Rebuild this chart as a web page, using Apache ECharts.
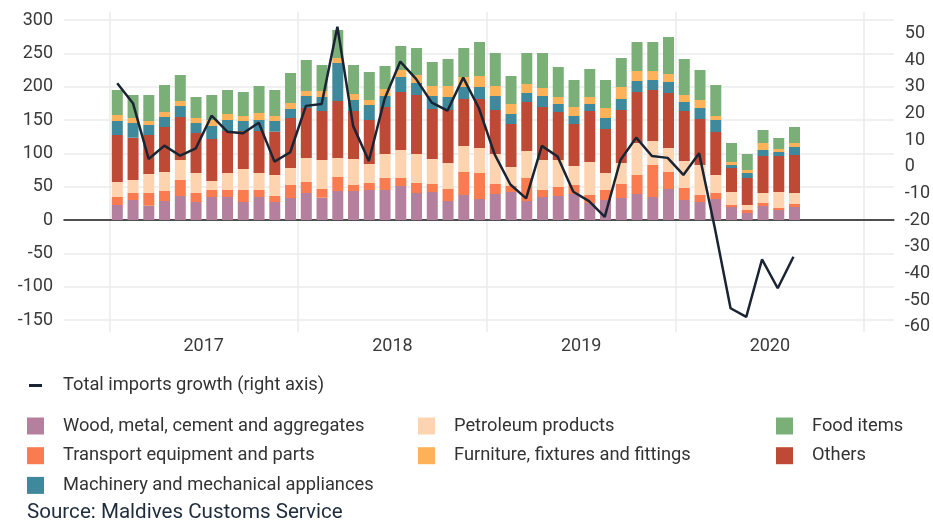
<!DOCTYPE html>
<html>
<head>
<meta charset="utf-8">
<script src="https://cdn.jsdelivr.net/npm/echarts@6/dist/echarts.min.js"></script>
<style>
  html, body { margin: 0; padding: 0; background: #fff; }
  #chart { width: 933px; height: 520px; }
</style>
</head>
<body>
<div id="chart"></div>
<script>
// monthly imports by category (MVR millions), Jan 2017 - Aug 2020
const months = [
  "2017-01", "2017-02", "2017-03", "2017-04", "2017-05", "2017-06", "2017-07", "2017-08", "2017-09", "2017-10", "2017-11", "2017-12",
  "2018-01", "2018-02", "2018-03", "2018-04", "2018-05", "2018-06", "2018-07", "2018-08", "2018-09", "2018-10", "2018-11", "2018-12",
  "2019-01", "2019-02", "2019-03", "2019-04", "2019-05", "2019-06", "2019-07", "2019-08", "2019-09", "2019-10", "2019-11", "2019-12",
  "2020-01", "2020-02", "2020-03", "2020-04", "2020-05", "2020-06", "2020-07", "2020-08"
];
const wood = [22.5, 30, 21.5, 28.5, 36, 27, 34.5, 34.5, 27, 34.5, 27, 33,
  40.5, 33.5, 43.5, 43.5, 45, 45, 51, 40.5, 42, 28.5, 37.5, 31.5,
  39, 42, 28.5, 34.5, 36, 39, 25.5, 30, 33, 39, 34.5, 46.5,
  30, 27, 31.5, 19.5, 10.5, 21, 15, 19.5];
const transport = [12, 10.5, 19, 15, 24, 13.5, 10.5, 10.5, 18, 10.5, 9, 19.5,
  16.5, 13, 21, 9, 10.5, 18, 12, 15, 12, 18, 34.5, 39,
  15, 9, 34.5, 10.5, 13.5, 13.5, 12, 15, 21, 28.5, 48, 25.5,
  18, 10.5, 9, 3, 4.5, 4.5, 3, 4.5];
const petroleum = [22.5, 19.5, 28.5, 28.5, 30, 30, 13.5, 25.5, 31.5, 25.5, 31.5, 25.5,
  36, 43.5, 28.5, 39, 28.5, 36, 42, 43.5, 37.5, 39, 39, 37.5,
  45, 28.5, 40.5, 45, 40.5, 28.5, 49.5, 25.5, 31.5, 48, 36, 36,
  40.5, 45, 27, 19.5, 7.5, 15, 24, 16.5];
const others = [70.5, 63.5, 58.5, 67.5, 64.5, 60, 63, 63, 57, 63, 65, 75,
  75, 73.5, 85.5, 72, 66, 70.5, 87, 88.5, 75, 79.5, 70.5, 73.5,
  66, 64.5, 73.5, 79.5, 72, 63, 76.5, 66, 79.5, 76.5, 76.5, 82.5,
  75, 69, 64.5, 36, 40.5, 55.5, 54, 57];
const machinery = [21, 22, 15, 15, 16.5, 15, 19.5, 16.5, 15, 16.5, 16, 13.5,
  18, 21, 57, 16.5, 22.5, 16.5, 22.5, 18, 19.5, 19.5, 18, 18,
  21, 15, 13.5, 16.5, 12, 12, 10.5, 16.5, 16.5, 16.5, 15, 16.5,
  13.5, 16.5, 18, 4.5, 7.5, 9, 6, 12];
const furniture = [9, 7.5, 6, 7.5, 7.5, 7.5, 9, 9, 7.5, 10.5, 7.5, 9,
  7.5, 9, 7.5, 9, 7.5, 10.5, 10.5, 12, 15, 16.5, 15, 16.5,
  15, 15, 13.5, 12, 10.5, 13.5, 10.5, 15, 18, 15, 13.5, 12,
  10.5, 12, 6, 4.5, 4.5, 10.5, 4.5, 6];
const food = [37.5, 34.5, 39, 40.5, 39, 31.5, 37.5, 36, 36, 40.5, 39, 45,
  46.5, 39, 42, 43.5, 42, 34.5, 36, 40.5, 36, 40.5, 43.5, 51,
  49.5, 42, 46.5, 52.5, 45, 40.5, 42, 42, 43.5, 43.5, 43.5, 55.5,
  54, 45, 46.5, 28.5, 24, 19.5, 16.5, 24];
// total imports growth, % y-o-y (right axis)
const growth = [31.3, 23.8, 2.9, 7.9, 4.1, 6.9, 19.1, 13.1, 12.5, 16.5, 1.9, 5.4,
  22.8, 23.5, 52.5, 15.3, 2.1, 25.4, 39.4, 32.9, 24, 21, 33.4, 21.9,
  4.6, -6.7, -11.9, 7.8, 3.8, -9.4, -12.9, -18.8, 2.5, 10.9, 4, 3.3,
  -3.1, 5, -23, -53.1, -56.3, -34.8, -45.6, -33.8];

const yearLabels = ["2017", "2018", "2019", "2020"];
const leftTicks = [-150, -100, -50, 0, 50, 100, 150, 200, 250, 300];
const rightTicks = [-60, -50, -40, -30, -20, -10, 0, 10, 20, 30, 40, 50];

const lineName = "Total imports growth (right axis)";
const stackDefs = [
  { name: "Wood, metal, cement and aggregates", data: wood, color: "#b57f9e" },
  { name: "Transport equipment and parts", data: transport, color: "#f97b4f" },
  { name: "Petroleum products", data: petroleum, color: "#fdd3b0" },
  { name: "Others", data: others, color: "#be4934" },
  { name: "Machinery and mechanical appliances", data: machinery, color: "#3e899c" },
  { name: "Furniture, fixtures and fittings", data: furniture, color: "#fdb158" },
  { name: "Food items", data: food, color: "#7ab078" },
];

// year boundaries and year centres in month-index units
const yearStarts = yearLabels.map((y) => months.indexOf(y + "-01") - 0.5);
yearStarts.push(yearStarts[yearStarts.length - 1] + 12);
const yearMids = yearLabels.map((y, k) => yearStarts[k] + 6);

const font = "Roboto, 'Noto Sans', sans-serif";
const gridLine = { color: "#ebebeb", width: 1.5 };
const xMin = -3.384, xMax = 49.38;
const plotLeft = 64, plotRight = 895;
const monthPx = (plotRight - plotLeft) / (xMax - xMin);

const chart = echarts.init(document.getElementById("chart"));

const series = stackDefs.map((s) => ({
  name: s.name,
  type: "bar",
  stack: "imports",
  xAxisIndex: 1,
  yAxisIndex: 2,
  barWidth: 11,
  itemStyle: { color: s.color },
  data: s.data,
}));

series.push({
  name: lineName,
  type: "line",
  xAxisIndex: 0,
  yAxisIndex: 1,
  z: 5,
  symbol: "none",
  lineStyle: { color: "#1b2433", width: 2.5 },
  itemStyle: { color: "#1b2433" },
  data: growth.map((v, i) => [i, v]),
});

const legendText = (pad) => ({
  fontFamily: font,
  fontSize: 18.3,
  color: "#333",
  lineHeight: 17,
  padding: [0, 0, 0, pad],
});

const col = (names, left) => ({
  data: names,
  left: left,
  top: 417,
  orient: "vertical",
  padding: 0,
  itemGap: 11.7,
  itemWidth: 17,
  itemHeight: 17,
  icon: "rect",
  selectedMode: false,
  textStyle: legendText(14),
});

// the bar grid covers exactly the data months so categories land on the month positions
const barLeft = plotLeft + (-0.5 - xMin) * monthPx;
const barRight = barLeft + months.length * monthPx;

chart.setOption({
  animation: false,
  title: {
    text: "Source: Maldives Customs Service",
    left: 27,
    top: 502,
    padding: 0,
    textStyle: { fontFamily: font, fontSize: 20.6, fontWeight: "normal", color: "#1e2c3c" },
  },
  legend: [
    {
      data: [lineName],
      left: 29,
      top: 376.5,
      padding: 0,
      icon: "rect",
      itemWidth: 13,
      itemHeight: 3,
      selectedMode: false,
      textStyle: legendText(16),
    },
    col([stackDefs[0].name, stackDefs[1].name, stackDefs[4].name], 27),
    col([stackDefs[2].name, stackDefs[5].name], 418),
    col([stackDefs[6].name, stackDefs[3].name], 776),
  ],
  grid: [
    { left: plotLeft, right: 933 - plotRight, top: 12, bottom: 188 },
    { left: barLeft, right: 933 - barRight, top: 12, bottom: 188 },
  ],
  xAxis: [
    {
      type: "value",
      gridIndex: 0,
      min: xMin,
      max: xMax,
      axisLine: { show: false },
      axisTick: { show: false, customValues: yearStarts },
      splitLine: { show: true, customValues: yearStarts, lineStyle: gridLine },
      axisLabel: {
        customValues: yearMids,
        formatter: (v) => yearLabels[yearMids.indexOf(v)],
        fontFamily: font,
        fontSize: 18,
        color: "#3a3a3a",
        margin: 5,
      },
    },
    {
      type: "category",
      gridIndex: 1,
      data: months,
      axisLine: { show: false },
      axisTick: { show: false },
      axisLabel: { show: false },
      splitLine: { show: false },
    },
    {
      // zero line across the full plot
      type: "value",
      gridIndex: 0,
      min: xMin,
      max: xMax,
      axisLine: { show: true, onZero: true, onZeroAxisIndex: 0, lineStyle: { color: "#1a1a1a", width: 1.5 } },
      axisTick: { show: false },
      axisLabel: { show: false },
      splitLine: { show: false },
    },
  ],
  yAxis: [
    {
      type: "value",
      gridIndex: 0,
      min: -168,
      max: 312,
      axisLine: { show: false },
      axisTick: { show: false, customValues: leftTicks },
      splitLine: { show: true, customValues: leftTicks, lineStyle: gridLine },
      axisLabel: { customValues: leftTicks, fontFamily: font, fontSize: 18, color: "#3a3a3a", margin: 11 },
    },
    {
      type: "value",
      gridIndex: 0,
      position: "right",
      min: -62,
      max: 58,
      axisLine: { show: false },
      axisTick: { show: false, customValues: rightTicks },
      splitLine: { show: false },
      axisLabel: { customValues: rightTicks, fontFamily: font, fontSize: 18, color: "#3a3a3a", margin: 11 },
    },
    {
      type: "value",
      gridIndex: 1,
      min: -168,
      max: 312,
      show: false,
    },
  ],
  series: series,
});
</script>
</body>
</html>
